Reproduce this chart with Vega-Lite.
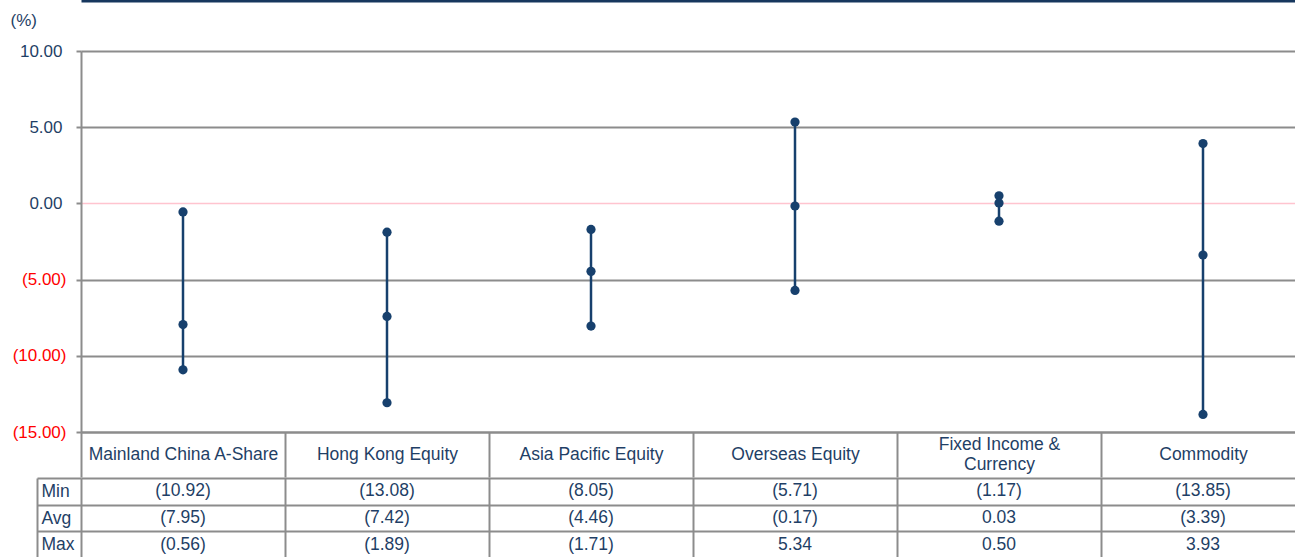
{
  "$schema": "https://vega.github.io/schema/vega-lite/v6.json",
  "padding": {"left": 10, "top": 0, "right": 0, "bottom": 0},
  "background": "white",
  "spacing": -10,
  "config": {"font": "Liberation Sans", "view": {"stroke": null}},
  "datasets": {
    "stats": [
      {"category": "Mainland China A-Share", "Min": -10.92, "Avg": -7.95, "Max": -0.56},
      {"category": "Hong Kong Equity", "Min": -13.08, "Avg": -7.42, "Max": -1.89},
      {"category": "Asia Pacific Equity", "Min": -8.05, "Avg": -4.46, "Max": -1.71},
      {"category": "Overseas Equity", "Min": -5.71, "Avg": -0.17, "Max": 5.34},
      {"category": "Fixed Income & Currency", "Min": -1.17, "Avg": 0.03, "Max": 0.50},
      {"category": "Commodity", "Min": -13.85, "Avg": -3.39, "Max": 3.93}
    ]
  },
  "vconcat": [
    {
      "width": 1224,
      "height": 381,
      "data": {"name": "stats"},
      "layer": [
        {
          "mark": {"type": "rule", "color": "#17406d", "strokeWidth": 2.5},
          "encoding": {
            "x": {
              "field": "category", "type": "nominal", "sort": null,
              "scale": {"paddingInner": 0, "paddingOuter": 0},
              "axis": {
                "orient": "bottom", "title": null, "tickBand": "extent", "tickSize": 45,
                "minExtent": 46, "maxExtent": 46,
                "tickColor": "#8c8c8c", "tickWidth": 2, "domainColor": "#8c8c8c", "domainWidth": 2,
                "labelPadding": {"condition": {"test": "datum.label == 'Fixed Income & Currency'", "value": -33}, "value": -23},
                "labelBaseline": "middle", "labelAngle": 0,
                "labelFontSize": 17.5, "labelColor": "#1f3f66", "labelLimit": 0,
                "labelLineHeight": 20,
                "labelExpr": "datum.label == 'Fixed Income & Currency' ? ['Fixed Income &', 'Currency'] : datum.label"
              }
            },
            "y": {
              "field": "Min", "type": "quantitative",
              "scale": {"domain": [-15, 10], "nice": false, "zero": false},
              "axis": {
                "title": "(%)", "titleAngle": 0, "titleX": -71, "titleY": -31,
                "titleAlign": "left", "titleBaseline": "middle", "titleFontSize": 17,
                "titleFontWeight": "normal", "titleColor": "#1f3f66",
                "values": [-15, -10, -5, 0, 5, 10],
                "labelExpr": "datum.value < 0 ? '(' + format(-datum.value, '.2f') + ')' : format(datum.value, '.2f')",
                "labelFontSize": 17,
                "labelColor": {"condition": {"test": "datum.value < 0", "value": "#ff0000"}, "value": "#1f3f66"},
                "labelPadding": {"condition": {"test": "datum.value < 0", "value": 10}, "value": 14},
                "tickSize": 5, "tickColor": "#8c8c8c", "tickWidth": 2,
                "domainColor": "#8c8c8c", "domainWidth": 2,
                "grid": true,
                "gridColor": {"condition": {"test": "datum.value === 0", "value": "#ffc4cf"}, "value": "#8c8c8c"},
                "gridWidth": {"condition": {"test": "datum.value === 0", "value": 1.3}, "value": 2}
              }
            },
            "y2": {"field": "Max"}
          }
        },
        {
          "transform": [{"fold": ["Min", "Avg", "Max"], "as": ["stat", "value"]}],
          "mark": {"type": "circle", "size": 85, "opacity": 1, "color": "#17406d"},
          "encoding": {
            "x": {
              "field": "category", "type": "nominal", "sort": null,
              "axis": {
                "orient": "top", "offset": 50.5, "title": null, "labels": false, "ticks": false,
                "grid": false, "domainColor": "#17375e", "domainWidth": 3
              }
            },
            "y": {"field": "value", "type": "quantitative"}
          }
        }
      ],
      "resolve": {"axis": {"x": "independent"}}
    },
    {
      "width": 1224,
      "height": 80,
      "data": {"name": "stats"},
      "transform": [{"fold": ["Min", "Avg", "Max"], "as": ["stat", "value"]}],
      "mark": {"type": "text", "fontSize": 17.5, "color": "#1f3f66"},
      "encoding": {
        "x": {
          "field": "category", "type": "nominal", "sort": null,
          "scale": {"paddingInner": 0, "paddingOuter": 0},
          "axis": {
            "orient": "bottom", "title": null, "labels": false, "ticks": false, "domain": false,
            "minExtent": 0, "maxExtent": 0,
            "grid": true, "tickBand": "extent", "gridColor": "#8c8c8c", "gridWidth": 2
          }
        },
        "y": {
          "field": "stat", "type": "nominal", "sort": ["Min", "Avg", "Max"],
          "scale": {"paddingInner": 0, "paddingOuter": 0},
          "axis": {
            "title": null, "orient": "left", "offset": 44, "tickBand": "extent",
            "tickSize": -44, "ticks": true, "tickColor": "#8c8c8c", "tickWidth": 2,
            "grid": true, "gridColor": "#8c8c8c", "gridWidth": 2,
            "domainColor": "#8c8c8c", "domainWidth": 2,
            "labelAlign": "left", "labelBaseline": "middle", "labelPadding": 40,
            "labelFontSize": 17.5, "labelColor": "#1f3f66"
          }
        },
        "text": {"field": "value", "type": "quantitative", "format": "(.2f"}
      }
    }
  ]
}
